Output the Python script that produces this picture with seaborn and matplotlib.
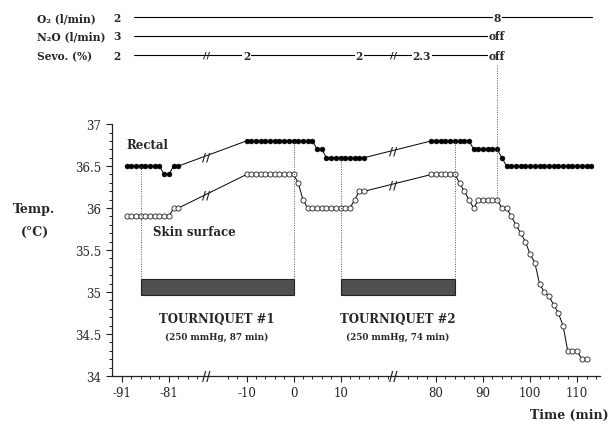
import numpy as np
import pandas as pd
import matplotlib
matplotlib.use("Agg")
import matplotlib.pyplot as plt
import seaborn as sns

# rectal temperature (deg C) against time (min)
rectal_time = [-90, -89, -88, -87, -86, -85, -84, -83, -82, -81, -80, -79,
               -10, -9, -8, -7, -6, -5, -4, -3, -2, -1, 0, 1, 2, 3, 4,
               5, 6, 7, 8, 9, 10, 11, 12, 13, 14, 15,
               79, 80, 81, 82, 83, 84, 85, 86, 87, 88, 89, 90, 91, 92, 93, 94,
               95, 96, 97, 98, 99, 100, 101, 102, 103, 104, 105, 106, 107,
               108, 109, 110, 111, 112, 113]
rectal_temp = [36.5, 36.5, 36.5, 36.5, 36.5, 36.5, 36.5, 36.5, 36.4, 36.4, 36.5, 36.5,
               36.8, 36.8, 36.8, 36.8, 36.8, 36.8, 36.8, 36.8, 36.8, 36.8, 36.8, 36.8,
               36.8, 36.8, 36.8, 36.7, 36.7, 36.6, 36.6, 36.6, 36.6, 36.6, 36.6,
               36.6, 36.6, 36.6,
               36.8, 36.8, 36.8, 36.8, 36.8, 36.8, 36.8, 36.8, 36.8, 36.7, 36.7,
               36.7, 36.7, 36.7, 36.7, 36.6, 36.5, 36.5, 36.5, 36.5, 36.5, 36.5,
               36.5, 36.5, 36.5, 36.5, 36.5, 36.5, 36.5, 36.5, 36.5, 36.5, 36.5,
               36.5, 36.5]

# skin surface temperature
skin_time = [-90, -89, -88, -87, -86, -85, -84, -83, -82, -81, -80, -79,
             -10, -9, -8, -7, -6, -5, -4, -3, -2, -1, 0, 1, 2, 3, 4,
             5, 6, 7, 8, 9, 10, 11, 12, 13, 14, 15,
             79, 80, 81, 82, 83, 84, 85, 86, 87, 88, 89, 90, 91, 92, 93, 94,
             95, 96, 97, 98, 99, 100, 101, 102, 103, 104, 105, 106, 107,
             108, 109, 110, 111, 112]
skin_temp = [35.9, 35.9, 35.9, 35.9, 35.9, 35.9, 35.9, 35.9, 35.9, 35.9, 36.0, 36.0,
             36.4, 36.4, 36.4, 36.4, 36.4, 36.4, 36.4, 36.4, 36.4, 36.4, 36.4, 36.3,
             36.1, 36.0, 36.0, 36.0, 36.0, 36.0, 36.0, 36.0, 36.0, 36.0, 36.0,
             36.1, 36.2, 36.2,
             36.4, 36.4, 36.4, 36.4, 36.4, 36.4, 36.3, 36.2, 36.1, 36.0, 36.1,
             36.1, 36.1, 36.1, 36.1, 36.0, 36.0, 35.9, 35.8, 35.7, 35.6, 35.45,
             35.35, 35.1, 35.0, 34.95, 34.85, 34.75, 34.6, 34.3, 34.3, 34.3,
             34.2, 34.2]

# tourniquets
tq_start = [-87, 10]
tq_duration = [87, 74]
tq_labels = ["TOURNIQUET #1", "TOURNIQUET #2"]
tq_notes = ["(250 mmHg, 87 min)", "(250 mmHg, 74 min)"]

# anaesthetic gas settings
gas_rows = ["O\u2082 (l/min)", "N\u2082O (l/min)", "Sevo. (%)"]
gas_start = ["2", "3", "2"]
o2_change_time = [93]
o2_change_text = ["8"]
n2o_change_time = [93]
n2o_change_text = ["off"]
sevo_change_time = [-10, 14, 77, 93]
sevo_change_text = ["2", "2", "2.3", "off"]

tick_times = [-91, -81, -10, 0, 10, 80, 90, 100, 110]


def to_pos(t):
    # broken time axis: three segments squeezed together
    t = np.asarray(t, dtype=float)
    return np.where(t < -40, t, np.where(t < 40, t - 54.5, t - 104.2))


breaks = [-73.0, -33.3]

sns.set_theme(style="ticks")
plt.rcParams["font.family"] = ["DejaVu Serif", "DejaVu Sans"]

fig = plt.figure(figsize=(6.11, 4.27), dpi=100)
ax = fig.add_axes([0.1833, 0.117, 0.799, 0.590])

rectal = pd.DataFrame({"pos": to_pos(rectal_time), "temp": rectal_temp})
skin = pd.DataFrame({"pos": to_pos(skin_time), "temp": skin_temp})

sns.lineplot(data=rectal, x="pos", y="temp", ax=ax, color="black", linewidth=0.7,
             marker="o", markersize=3.5, markerfacecolor="black",
             markeredgecolor="black", markeredgewidth=0.4)
sns.lineplot(data=skin, x="pos", y="temp", ax=ax, color="black", linewidth=0.7,
             marker="o", markersize=3.7, markerfacecolor="white",
             markeredgecolor="#222222", markeredgewidth=0.6)

# tourniquet bars and dotted markers
for s, d, lab, note in zip(tq_start, tq_duration, tq_labels, tq_notes):
    p0, p1 = to_pos(s), to_pos(s + d)
    ax.bar(p0, 35.16 - 34.97, width=p1 - p0, bottom=34.97, align="edge",
           color="#505050", edgecolor="#222222", linewidth=0.8)
    for tt in (s, s + d):
        top = np.interp(to_pos(tt), rectal["pos"], rectal["temp"])
        ax.vlines(to_pos(tt), 35.16, top, colors="#555555", linewidth=0.7,
                  linestyles=(0, (1, 1.5)))
    ax.text((p0 + p1) / 2, 34.69, lab, ha="center", va="center",
            fontsize=8.5, fontweight="bold")
    ax.text((p0 + p1) / 2, 34.47, note, ha="center", va="center",
            fontsize=6.3, fontweight="bold")

# O2 change marker running up to the gas rows
gp = to_pos(o2_change_time[0])
ax.vlines(gp, np.interp(gp, skin["pos"], skin["temp"]), 37.71, colors="#555555",
          linewidth=0.7, linestyles=(0, (1, 1.5)), clip_on=False)

# break marks on the curves and on the axis
for b in breaks:
    for df in (rectal, skin):
        ax.text(b, np.interp(b, df["pos"], df["temp"]), "//", ha="center",
                va="center", fontsize=8, fontweight="bold")
    ax.text(b, 34.0, "//", ha="center", va="center", fontsize=8.5,
            fontweight="bold", clip_on=False)

# gas rows above the plot
row_y = [38.27, 38.05, 37.82]
row_end = [9.0, -11.2, -11.2]
changes = [(o2_change_time, o2_change_text), (n2o_change_time, n2o_change_text),
           (sevo_change_time, sevo_change_text)]
for name, first, y, end, (ct, ctext) in zip(gas_rows, gas_start, row_y, row_end, changes):
    ax.text(-109.1, y, name, ha="left", va="center", fontsize=7.7,
            fontweight="bold", clip_on=False)
    ax.text(-92.1, y, first, ha="center", va="center", fontsize=7.7,
            fontweight="bold", clip_on=False)
    ax.plot([-88.4, end], [y, y], color="black", linewidth=0.8, clip_on=False)
    for tt, txt in zip(ct, ctext):
        ax.text(to_pos(tt), y, txt, ha="center", va="center", fontsize=7.7,
                fontweight="bold", clip_on=False,
                bbox=dict(facecolor="white", edgecolor="none", pad=0.6))
for b in breaks:
    ax.text(b, row_y[2], "//", ha="center", va="center", fontsize=7,
            fontweight="bold", clip_on=False)

ax.set_xlim(-93.1, 10.7)
ax.set_ylim(34, 37)
ax.set_xticks(to_pos(tick_times))
ax.set_xticklabels([str(t) for t in tick_times])
minor_t = np.concatenate([np.arange(-91, -74, 2), np.arange(-14, 21, 2),
                          np.arange(74, 115, 2)])
ax.set_xticks(to_pos(minor_t), minor=True)
ax.set_yticks([34, 34.5, 35, 35.5, 36, 36.5, 37])
ax.set_yticklabels(["34", "34.5", "35", "35.5", "36", "36.5", "37"])
ax.set_yticks(np.arange(34, 37.01, 0.1), minor=True)
ax.tick_params(which="major", length=4, width=0.8, labelsize=8.5, color="#222222")
ax.tick_params(which="minor", length=2.5, width=0.7, color="#222222")
ax.set_xlabel("")
ax.set_ylabel("")
for sp in ("left", "bottom"):
    ax.spines[sp].set_linewidth(0.9)
    ax.spines[sp].set_color("#222222")
sns.despine(ax=ax)

fig.text(126 / 611, 1 - 146 / 427, "Rectal", ha="left", va="center",
         fontsize=8.5, fontweight="bold")
fig.text(153 / 611, 1 - 233 / 427, "Skin surface", ha="left", va="center",
         fontsize=8.5, fontweight="bold")
fig.text(34 / 611, 1 - 210 / 427, "Temp.", ha="center", va="center",
         fontsize=9, fontweight="bold")
fig.text(35 / 611, 1 - 232 / 427, "(\u00b0C)", ha="center", va="center",
         fontsize=9, fontweight="bold")
fig.text(609 / 611, 1 - 415 / 427, "Time (min)", ha="right", va="center",
         fontsize=9, fontweight="bold")

fig.savefig("out.png", dpi=100)
